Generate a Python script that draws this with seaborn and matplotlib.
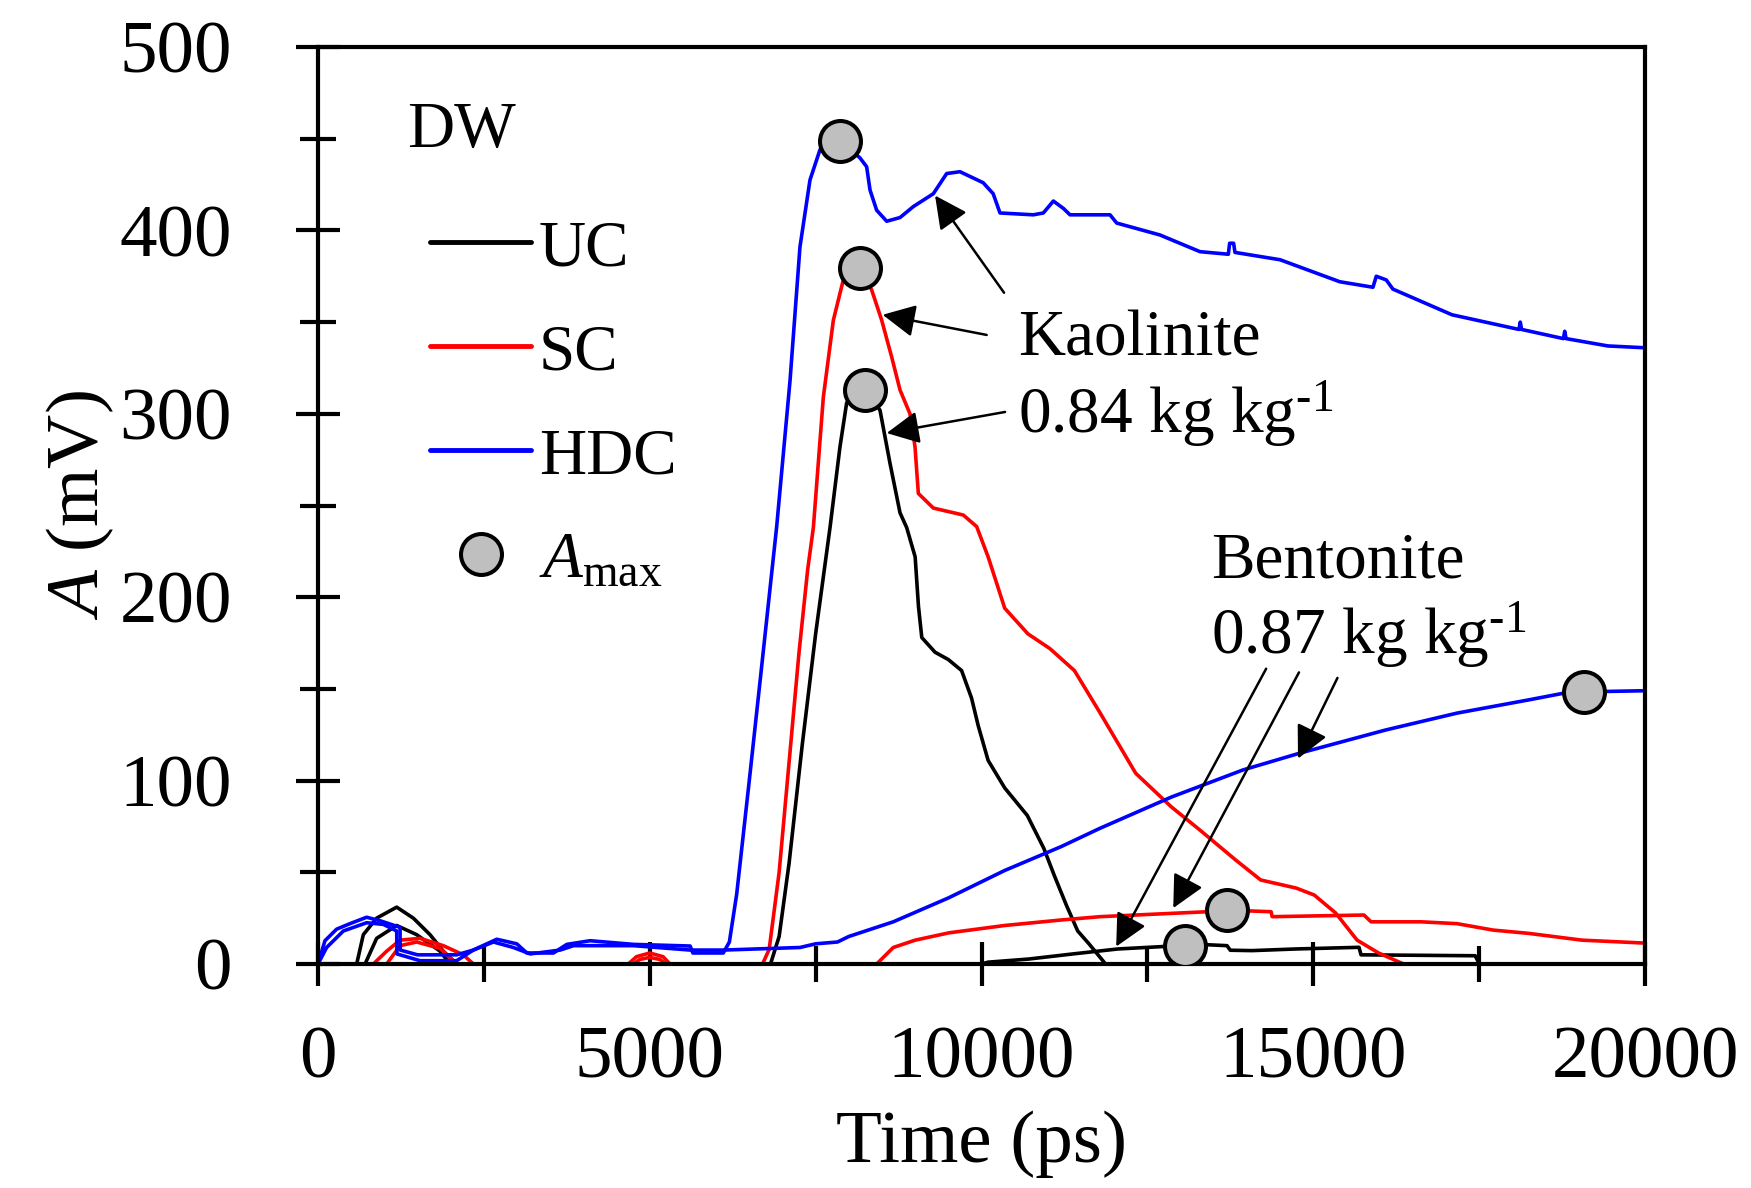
import numpy as np
import pandas as pd
import matplotlib
matplotlib.use("Agg")
import matplotlib.pyplot as plt
import seaborn as sns
from matplotlib.lines import Line2D

# ---- Kaolinite 0.84 kg/kg ----
kao_uc_t = [0, 583, 683, 884, 1186, 1437, 1688, 1889, 2090, 6820, 6950, 7100, 7300, 7500,
            7717, 7867, 7968, 8244, 8470, 8621, 8772, 8872, 9000, 9050, 9100, 9300, 9500,
            9700, 9850, 9950, 10100, 10350, 10690, 10940, 11100, 11280, 11450, 11620, 11870, 20000]
kao_uc_a = [0, 0, 16, 25, 31, 25, 16, 7, 0, 0, 15, 55, 120, 180,
            238, 282, 306, 313, 302, 273, 246, 238, 222, 195, 178, 170, 166,
            160, 145, 130, 111, 96, 81, 63, 48, 32, 18, 11, 0, 0]

kao_sc_t = [0, 834, 1035, 1236, 1537, 1889, 2190, 2341, 4676, 4800, 5000, 5200, 5305,
            6700, 6800, 6950, 7100, 7250, 7380, 7466, 7616, 7767, 7917, 8169, 8345, 8496,
            8646, 8772, 8922, 8998, 9048, 9274, 9726, 9927, 10100, 10350, 10700, 11030,
            11400, 11786, 12324, 12860, 13293, 13831, 14208, 14743, 15015, 15338, 15661,
            15985, 16362, 20000]
kao_sc_a = [0, 0, 7, 13, 14, 10, 5, 0, 0, 4, 6, 4, 0,
            0, 8, 50, 110, 170, 215, 238, 309, 351, 373, 379.5, 367.5, 351,
            331, 313, 300, 282, 256.6, 248.6, 244.8, 238.5, 222, 194, 180, 172,
            160, 137, 104, 85.7, 73, 56.7, 45.8, 41.4, 37.6, 27.8, 13,
            6, 0, 0]

kao_hdc_t = [0, 105, 281, 482, 733, 934, 1236, 1240, 1500, 2090, 2341, 2694, 2996, 3147,
             3549, 3750, 4101, 4755, 5609, 5650, 6108, 6200, 6310, 6500, 6680, 6913, 7114,
             7264, 7415, 7566, 7867, 8169, 8269, 8320, 8420, 8571, 8772, 8973, 9274, 9475,
             9676, 10025, 10176, 10279, 10781, 10932, 11083, 11234, 11334, 11937, 12038,
             12690, 13293, 13720, 13740, 13800, 13820, 14500, 15400, 15900, 15950, 16100,
             16200, 17090, 18100, 18120, 18140, 18770, 18790, 18810, 19440, 20000]
kao_hdc_a = [0, 12.7, 19, 22, 25.5, 23.6, 20, 7.6, 5, 5, 7.6, 13.5, 11, 6,
             6, 10.7, 12.7, 10.7, 9.8, 6, 6, 12, 38, 100, 160, 238.5, 318,
             391, 427.5, 444, 449, 439.5, 434.7, 422, 411, 405, 407, 413, 420, 431,
             432, 426, 420, 409.5, 408.5, 409.5, 416, 412, 408.5, 408.5, 404,
             397.5, 388.4, 387, 393, 393, 388, 384, 372, 369, 375, 373,
             368, 354, 346, 350, 346, 341, 345, 341, 337, 336]

# ---- Bentonite 0.87 kg/kg ----
ben_uc_t = [0, 709, 884, 1186, 1487, 1839, 1990, 10000, 10100, 10710, 11380, 12057, 12728,
            13067, 13400, 13700, 13750, 14078, 14743, 15690, 15720, 17440, 17505, 20000]
ben_uc_a = [0, 0, 14, 21, 16, 7, 0, 0, 1, 2.7, 5.5, 8.2, 9.5,
            9.8, 10.5, 10, 7.5, 7.3, 8.2, 9.1, 5, 4.5, 0, 0]

ben_sc_t = [0, 1035, 1236, 1487, 1839, 2090, 4750, 4850, 5000, 5150, 5250, 8420, 8670,
            9000, 9510, 10350, 11200, 11786, 12500, 13400, 13697, 14365, 14380, 15765,
            15871, 16625, 17167, 17710, 18246, 19050, 20000]
ben_sc_a = [0, 0, 10, 12, 8.5, 0, 0, 2.5, 3.6, 2.5, 0, 0, 9,
            13, 17, 21, 24, 25.8, 27, 28.5, 29.4, 28.5, 25.8, 26.7,
            23, 23, 22, 18.5, 16.7, 13, 11.4]

ben_hdc_t = [0, 130, 382, 733, 985, 1186, 1190, 1537, 2090, 2341, 2643, 2945, 3198, 3650,
             3851, 4755, 5609, 6108, 7264, 7500, 7830, 8000, 8670, 9500, 10350, 11200,
             11786, 12860, 13940, 14800, 16092, 17167, 18246, 18780, 19080, 20000]
ben_hdc_a = [0, 9, 18, 22.5, 21.6, 18, 5.5, 1.8, 1.8, 7.6, 12, 9, 5.5, 7.6,
             10, 10, 7.6, 7.6, 9, 11, 12, 15, 23, 36, 51, 64,
             74, 91, 105.8, 115, 127.6, 136.8, 144, 147.7, 148.4, 149]

# A_max points
amax_t = [7867, 8169, 8244, 19080, 13697, 13067]
amax_a = [449, 379.5, 313, 148.4, 29.4, 9.8]

# arrows: (tail t, tail A) -> (tip t, tip A)
kao_arrow_tail = [(10340, 366), (10078, 343), (10355, 301)]
kao_arrow_tip = [(9300, 419), (8510, 354), (8571, 289.5)]
ben_arrow_tail = [(14290, 161), (14785, 159), (15365, 156)]
ben_arrow_tip = [(12030, 9.5), (12890, 30.5), (14770, 112)]

types = ["UC", "SC", "HDC"]
colors = {"UC": "black", "SC": "#ff0000", "HDC": "#0000ff"}

frames = []
for clay, curves in [("kao", [(kao_uc_t, kao_uc_a), (kao_sc_t, kao_sc_a), (kao_hdc_t, kao_hdc_a)]),
                     ("ben", [(ben_uc_t, ben_uc_a), (ben_sc_t, ben_sc_a), (ben_hdc_t, ben_hdc_a)])]:
    for typ, (t, a) in zip(types, curves):
        frames.append(pd.DataFrame({"t": t, "A": a, "type": typ, "clay": clay}))
df = pd.concat(frames, ignore_index=True)
df["unit"] = df["clay"] + "_" + df["type"]

sns.set_theme(style="ticks")
plt.rcParams["font.family"] = ["Liberation Serif", "DejaVu Serif"]
plt.rcParams["mathtext.fontset"] = "custom"
plt.rcParams["mathtext.rm"] = "Liberation Serif"
plt.rcParams["mathtext.it"] = "Liberation Serif:italic"
for key in ["axes.edgecolor", "xtick.color", "ytick.color", "text.color", "axes.labelcolor"]:
    plt.rcParams[key] = "black"

fig = plt.figure(figsize=(17.51, 11.88), dpi=100)
ax = fig.add_axes([318 / 1751, 1 - 964 / 1188, 1327 / 1751, 917 / 1188])

sns.lineplot(data=df, x="t", y="A", hue="type", units="unit", estimator=None, sort=False,
             palette=colors, linewidth=2.6, legend=False, ax=ax)
sns.scatterplot(x=amax_t, y=amax_a, s=870, color="#bfbfbf", edgecolor="black",
                linewidth=2.9, zorder=5, ax=ax)

ax.set_xlim(0, 20000)
ax.set_ylim(0, 500)
ax.set_xticks(np.arange(0, 20001, 5000))
ax.set_xticks(np.arange(0, 20001, 2500), minor=True)
ax.set_yticks(np.arange(0, 501, 100))
ax.set_yticks(np.arange(0, 501, 50), minor=True)
for s in ax.spines.values():
    s.set_linewidth(3)
    s.set_color("black")
ax.tick_params(which="major", direction="inout", length=32, width=3, labelsize=54)
ax.tick_params(which="minor", direction="inout", length=26, width=3)
ax.tick_params(axis="x", pad=29)
ax.tick_params(axis="y", pad=46)

ax.set_xlabel("Time (ps)", fontsize=54, va="center")
ax.xaxis.set_label_coords(0.5, -0.197)
ax.set_ylabel("$\\mathit{A}$ (mV)", fontsize=54, va="center")
ax.yaxis.set_label_coords(-0.179, 0.5)

ax.text(1341, 445.5, "DW", fontsize=47, va="baseline", ha="left")

sup = "$^{\\mathregular{\u20101}}$"
ax.text(10550, 332, "Kaolinite", fontsize=47, va="baseline", ha="left")
ax.text(10550, 290, "0.84 kg kg" + sup, fontsize=47, va="baseline", ha="left")
ax.text(13455, 211, "Bentonite", fontsize=47, va="baseline", ha="left")
ax.text(13455, 169.6, "0.87 kg kg" + sup, fontsize=47, va="baseline", ha="left")

arrow_kw = dict(arrowstyle="-|>", color="black", lw=1.8, mutation_scale=50,
                shrinkA=0, shrinkB=0)
for tail, tip in zip(kao_arrow_tail + ben_arrow_tail, kao_arrow_tip + ben_arrow_tip):
    ax.annotate("", xy=tip, xytext=tail, arrowprops=arrow_kw)

handles = [Line2D([], [], color=colors[t], lw=3.5) for t in types]
handles.append(Line2D([], [], marker="o", ls="none", markersize=29.5,
                      markerfacecolor="#bfbfbf", markeredgecolor="black", markeredgewidth=2.9))
labels = types + ["$\\mathit{A}_{\\mathregular{max}}$"]
ax.legend(handles, labels, loc="upper left", bbox_to_anchor=(0.0844, 0.812),
          frameon=False, fontsize=47, handlelength=1.55, handletextpad=0.12,
          labelspacing=0.68, borderpad=0, borderaxespad=0)

fig.savefig("out.png", dpi=100)
